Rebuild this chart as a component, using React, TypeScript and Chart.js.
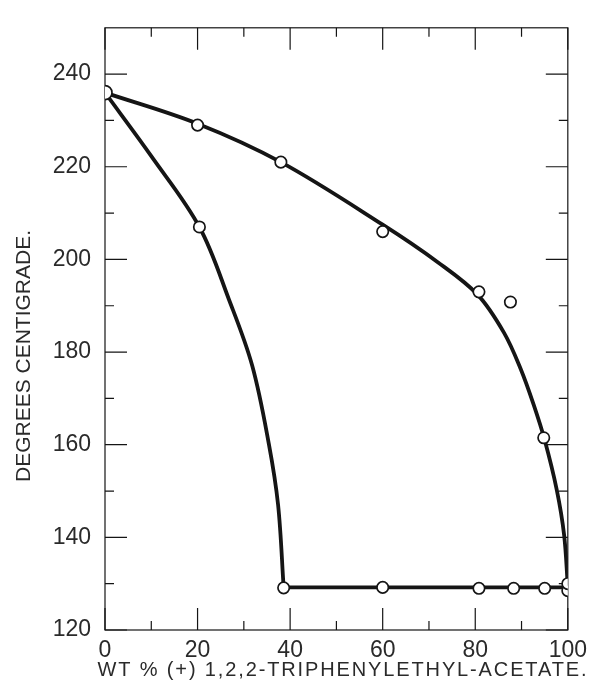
import React, { useEffect, useRef } from "react";
import { Chart, registerables } from "chart.js";

Chart.register(...registerables);

// Tick labels
const xTickValues = [0, 20, 40, 60, 80, 100];
const xMinorTicks = [10, 30, 50, 70, 90];
const yTickValues = [120, 140, 160, 180, 200, 220, 240];
const yMinorTicks = [130, 150, 170, 190, 210, 230];

// Upper curve (smooth line)
const upperCurveX = [0, 20, 38, 60, 71.9, 80.5, 86.2, 89.8, 92.6, 95, 97.6, 99.2, 100];
const upperCurveY = [236, 229.3, 221, 207.5, 199.4, 192.4, 184.2, 176.4, 168.7, 161, 150.3, 140.5, 129.5];

// Left curve (smooth line)
const leftCurveX = [0, 10, 20.4, 26.8, 31.8, 35.4, 37.4, 38.6];
const leftCurveY = [236, 222.3, 207, 191.3, 177.1, 160.2, 147, 129.2];

// Horizontal (solidus) line
const solidusX = [38.6, 100];
const solidusY = [129.2, 129.2];

// Observed points
const upperPointsX = [0, 20, 38, 60, 80.8, 87.6, 94.8, 100];
const upperPointsY = [236, 229, 221, 206, 193, 190.8, 161.5, 130];
const leftPointsX = [20.4];
const leftPointsY = [207];
const lowerPointsX = [38.6, 60, 80.8, 88.3, 95, 100];
const lowerPointsY = [129.1, 129.2, 129, 129, 129, 128.5];

const xTitle = "WT % (+) 1,2,2-TRIPHENYLETHYL-ACETATE.";
const yTitle = "DEGREES CENTIGRADE.";

const zip = (xs: number[], ys: number[]) => xs.map((x, i) => ({ x, y: ys[i] }));

const INK = "#151515";
const TEXT = "#2a2a2a";
const FONT = "'Liberation Sans', Arial, sans-serif";

const framePlugin = {
  id: "frame",
  beforeDatasetsDraw(chart: any) {
    const ctx = chart.ctx;
    const { left, right, top, bottom } = chart.chartArea;
    const xs = chart.scales.x;
    const ys = chart.scales.y;
    ctx.save();
    ctx.strokeStyle = INK;
    ctx.lineWidth = 1.2;
    ctx.strokeRect(left, top, right - left, bottom - top);
    const major = 22;
    const minor = 9;
    ctx.beginPath();
    const tickX = (v: number, len: number) => {
      const px = xs.getPixelForValue(v);
      ctx.moveTo(px, bottom);
      ctx.lineTo(px, bottom - len);
      ctx.moveTo(px, top);
      ctx.lineTo(px, top + len);
    };
    const tickY = (v: number, len: number) => {
      const py = ys.getPixelForValue(v);
      ctx.moveTo(left, py);
      ctx.lineTo(left + len, py);
      ctx.moveTo(right, py);
      ctx.lineTo(right - len, py);
    };
    xTickValues.forEach((v) => tickX(v, major));
    xMinorTicks.forEach((v) => tickX(v, minor));
    yTickValues.forEach((v) => tickY(v, major));
    yMinorTicks.forEach((v) => tickY(v, minor));
    ctx.stroke();
    ctx.restore();
  },
  afterDraw(chart: any) {
    const ctx = chart.ctx;
    ctx.save();
    ctx.fillStyle = TEXT;
    ctx.textAlign = "center";
    ctx.textBaseline = "middle";
    // x title
    ctx.font = `20px ${FONT}`;
    const w = ctx.measureText(xTitle).width;
    const target = 489;
    const sp = Math.max(0, (target - w) / (xTitle.length - 1));
    (ctx as any).letterSpacing = `${sp.toFixed(2)}px`;
    ctx.fillText(xTitle, 342 + sp / 2, 670);
    (ctx as any).letterSpacing = "0px";
    // y title
    ctx.font = `21px ${FONT}`;
    ctx.translate(24, 356);
    ctx.rotate(-Math.PI / 2);
    ctx.fillText(yTitle, 0, 0);
    ctx.restore();
  },
};

export default function App() {
  const ref = useRef<HTMLCanvasElement | null>(null);
  useEffect(() => {
    if (!ref.current) return;
    const markerStyle = {
      showLine: false,
      pointBackgroundColor: "#ffffff",
      pointBorderColor: INK,
      pointBorderWidth: 1.7,
      pointRadius: 5.7,
      pointHoverRadius: 5.7,
      order: 0,
    };
    const lineStyle = {
      showLine: true,
      pointRadius: 0,
      borderColor: INK,
      borderWidth: 3.8,
      tension: 0.35,
      borderCapStyle: "round",
      borderJoinStyle: "round",
      order: 1,
    };
    const chart = new Chart(ref.current, {
      type: "scatter",
      data: {
        datasets: [
          { ...markerStyle, data: zip(upperPointsX, upperPointsY), pointRadius: upperPointsX.map((x) => (x === 0 ? 7 : 5.7)) } as any,
          { ...markerStyle, data: zip(leftPointsX, leftPointsY) } as any,
          { ...markerStyle, data: zip(lowerPointsX, lowerPointsY) } as any,
          { ...lineStyle, data: zip(upperCurveX, upperCurveY) } as any,
          { ...lineStyle, data: zip(leftCurveX, leftCurveY) } as any,
          { ...lineStyle, tension: 0, data: zip(solidusX, solidusY) } as any,
        ],
      },
      options: {
        responsive: false,
        animation: false,
        devicePixelRatio: 1,
        layout: { padding: { top: 15, right: 23, left: 0, bottom: 0 } },
        plugins: { legend: { display: false }, tooltip: { enabled: false } },
        scales: {
          x: {
            type: "linear",
            min: 0,
            max: 100,
            afterFit: (s: any) => {
              s.height = 56;
            },
            afterBuildTicks: (s: any) => {
              s.ticks = xTickValues.map((v) => ({ value: v }));
            },
            ticks: {
              font: { size: 23, family: FONT },
              color: TEXT,
              padding: 7,
              maxRotation: 0,
              autoSkip: false,
            },
            grid: { display: false, drawTicks: false },
            border: { display: false },
          },
          y: {
            type: "linear",
            min: 120,
            max: 250,
            afterFit: (s: any) => {
              s.width = 105;
            },
            afterBuildTicks: (s: any) => {
              s.ticks = yTickValues.map((v) => ({ value: v }));
            },
            ticks: {
              font: { size: 23, family: FONT },
              color: TEXT,
              padding: 14,
              autoSkip: false,
            },
            grid: { display: false, drawTicks: false },
            border: { display: false },
          },
        },
      },
      plugins: [framePlugin],
    });
    return () => chart.destroy();
  }, []);
  return (
    <div style={{ position: "absolute", left: 0, top: 0, width: 594, height: 686, background: "#fff" }}>
      <canvas ref={ref} width={594} height={686} />
    </div>
  );
}
